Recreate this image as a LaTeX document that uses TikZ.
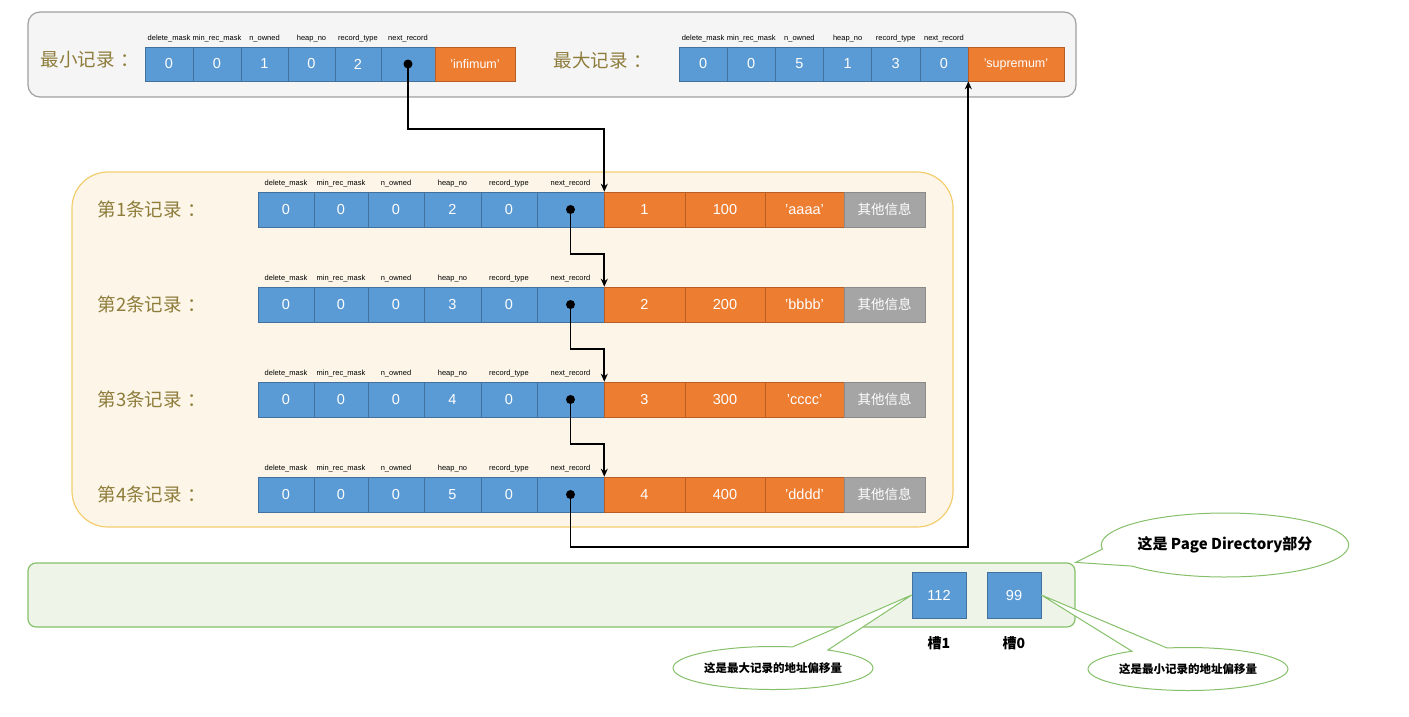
\documentclass[tikz,border=0pt]{standalone}
\usepackage{fontspec}
\setmainfont{Liberation Sans}
\newfontfamily\cjk{Noto Sans CJK SC}
\usetikzlibrary{shapes.callouts,shapes.geometric,arrows.meta}
\definecolor{cblue}{HTML}{5B9BD5}
\definecolor{cblueb}{HTML}{41719C}
\definecolor{corange}{HTML}{ED7D31}
\definecolor{coranb}{HTML}{B85E24}
\definecolor{cgray}{HTML}{A5A5A5}
\definecolor{cgrayb}{HTML}{8A8A8A}
\definecolor{cgold}{HTML}{8E7C3B}
\definecolor{topfill}{HTML}{F5F5F5}
\definecolor{topline}{HTML}{A0A0A0}
\definecolor{midfill}{HTML}{FDF6E8}
\definecolor{midline}{HTML}{F3CD6E}
\definecolor{pdfill}{HTML}{EEF5E8}
\definecolor{pdline}{HTML}{86C06A}
\tikzset{
  cellbase/.style={draw, inner sep=0pt, line width=0.6pt, text=white,
    font=\fontsize{14.5}{14.5}\selectfont},
  bcell/.style={cellbase, fill=cblue, draw=cblueb},
  ocell/.style={cellbase, fill=corange, draw=coranb},
  gcell/.style={cellbase, fill=cgray, draw=cgrayb, font=\cjk\fontsize{13.5}{13.5}\selectfont},
  flabel/.style={anchor=south, inner sep=1.5pt, font=\fontsize{7.5}{7.5}\selectfont, text=black},
  rowlabel/.style={text=cgold, font=\cjk\fontsize{18.5}{18.5}\selectfont},
  ptr/.style={line width=1.7pt, -{Stealth[length=8pt,width=7pt]}},
  dotmark/.style={circle, fill=black, inner sep=0pt, minimum size=9pt},
  bubble/.style={ellipse callout, draw=pdline, fill=white, line width=1pt,
    inner sep=0pt, callout pointer arc=22, font=\cjk\bfseries\fontsize{11.5}{11.5}\selectfont},
}
\newcommand{\wcolon}{\hspace{6pt}：}
\begin{document}
\begin{tikzpicture}[x=1pt,y=-1pt]
\useasboundingbox (0,0) rectangle (1409,716);

% background panels
\node[draw=topline, fill=topfill, line width=1.2pt, rounded corners=12pt,
  minimum width=1048pt, minimum height=85pt, inner sep=0pt] (topbox) at (552,54.5) {};
\node[draw=midline, fill=midfill, line width=1.2pt, rounded corners=36pt,
  minimum width=881pt, minimum height=355pt, inner sep=0pt] (midbox) at (512.5,349.5) {};
\node[draw=pdline, fill=pdfill, line width=1.2pt, rounded corners=8pt,
  minimum width=1047pt, minimum height=64pt, inner sep=0pt] (pd) at (551.5,595) {};

% minimum record
\node[rowlabel] (minlab) at (90,60) {最小记录\wcolon};
\foreach \ci/\lx/\cw/\vv/\ff in {1/145/48/0/delete\_mask, 2/193/48/0/min\_rec\_mask,
  3/241/47/1/n\_owned, 4/288/47/0/heap\_no, 5/335/46/2/record\_type, 6/381/54/{}/next\_record} {
  \node[bcell, minimum width=\cw pt, minimum height=34pt] (min-\ci) at ({\lx+\cw/2},64) {\vv};
  \node[flabel] (minf-\ci) at (min-\ci.north) [yshift=3pt] {\ff};
}
\node[ocell, minimum width=80pt, minimum height=34pt, font=\fontsize{12.5}{12.5}\selectfont] (min-7) at (475,64) {'infimum'};
\node[dotmark] (mindot) at (min-6.center) {};

% maximum record
\node[rowlabel] (maxlab) at (603,60) {最大记录\wcolon};
\foreach \ci/\vv/\ff in {1/0/delete\_mask, 2/0/min\_rec\_mask, 3/5/n\_owned,
  4/1/heap\_no, 5/3/record\_type, 6/0/next\_record} {
  \node[bcell, minimum width=48.17pt, minimum height=34pt] (max-\ci) at ({679+48.17*(\ci-0.5)},64) {\vv};
  \node[flabel] (maxf-\ci) at (max-\ci.north) [yshift=3pt] {\ff};
}
\node[ocell, minimum width=96pt, minimum height=34pt, font=\fontsize{12.5}{12.5}\selectfont] (max-7) at (1016,64) {'supremum'};

% user records
\foreach \rw/\yy/\hh/\num/\str in {1/209.5/2/100/aaaa, 2/304.5/3/200/bbbb,
  3/399.5/4/300/cccc, 4/494.5/5/400/dddd} {
  \node[rowlabel] (lab-\rw) at (152,\yy) {第\rw 条记录\wcolon};
  \foreach \ci/\lx/\cw/\vv/\ff in {1/258/56/0/delete\_mask, 2/314/54/0/min\_rec\_mask,
    3/368/56/0/n\_owned, 4/424/57/\hh/heap\_no, 5/481/56/0/record\_type, 6/537/67/{}/next\_record} {
    \node[bcell, minimum width=\cw pt, minimum height=35pt] (r\rw-\ci) at ({\lx+\cw/2},\yy) {\vv};
    \node[flabel] (f\rw-\ci) at (r\rw-\ci.north) [yshift=3pt] {\ff};
  }
  \node[ocell, minimum width=81pt, minimum height=35pt] (r\rw-7) at (644.5,\yy) {\rw};
  \node[ocell, minimum width=80pt, minimum height=35pt] (r\rw-8) at (725,\yy) {\num};
  \node[ocell, minimum width=79pt, minimum height=35pt] (r\rw-9) at (804.5,\yy) {'\str'};
  \node[gcell, minimum width=81pt, minimum height=35pt] (r\rw-10) at (884.5,\yy) {其他信息};
  \node[dotmark] (dot-\rw) at (r\rw-6.center) {};
}

% next_record pointers
\draw[ptr] (mindot.center) -- (mindot.center |- 0,129) -| (r1-6.north east);
\draw[ptr] (dot-1.center) -- (dot-1.center |- 0,254) -| (r2-6.north east);
\draw[ptr] (dot-2.center) -- (dot-2.center |- 0,349) -| (r3-6.north east);
\draw[ptr] (dot-3.center) -- (dot-3.center |- 0,444) -| (r4-6.north east);
\draw[ptr] (dot-4.center) -- (dot-4.center |- 0,547) -| (max-6.south east);

% page directory slots
\node[bcell, minimum width=54pt, minimum height=46pt] (slot1) at (939,595) {112};
\node[bcell, minimum width=54pt, minimum height=46pt] (slot0) at (1014,595) {99};
\node[font=\cjk\bfseries\fontsize{14}{14}\selectfont] (s1lab) at (939,643) {槽1};
\node[font=\cjk\bfseries\fontsize{14}{14}\selectfont] (s0lab) at (1014,643) {槽0};

% callouts
\node[bubble, minimum width=205pt, minimum height=64pt, callout pointer arc=34,
  font=\cjk\bfseries\fontsize{15}{15}\selectfont,
  callout absolute pointer={(pd.north east)}] (pdnote) at (1225,545) {这是 Page Directory部分};
\node[bubble, minimum width=200pt, minimum height=43pt,
  callout absolute pointer={(slot1.west)}] (maxnote) at (773,668) {这是最大记录的地址偏移量};
\node[bubble, minimum width=200pt, minimum height=43pt,
  callout absolute pointer={(slot0.east)}] (minnote) at (1188,669) {这是最小记录的地址偏移量};
\end{tikzpicture}
\end{document}
